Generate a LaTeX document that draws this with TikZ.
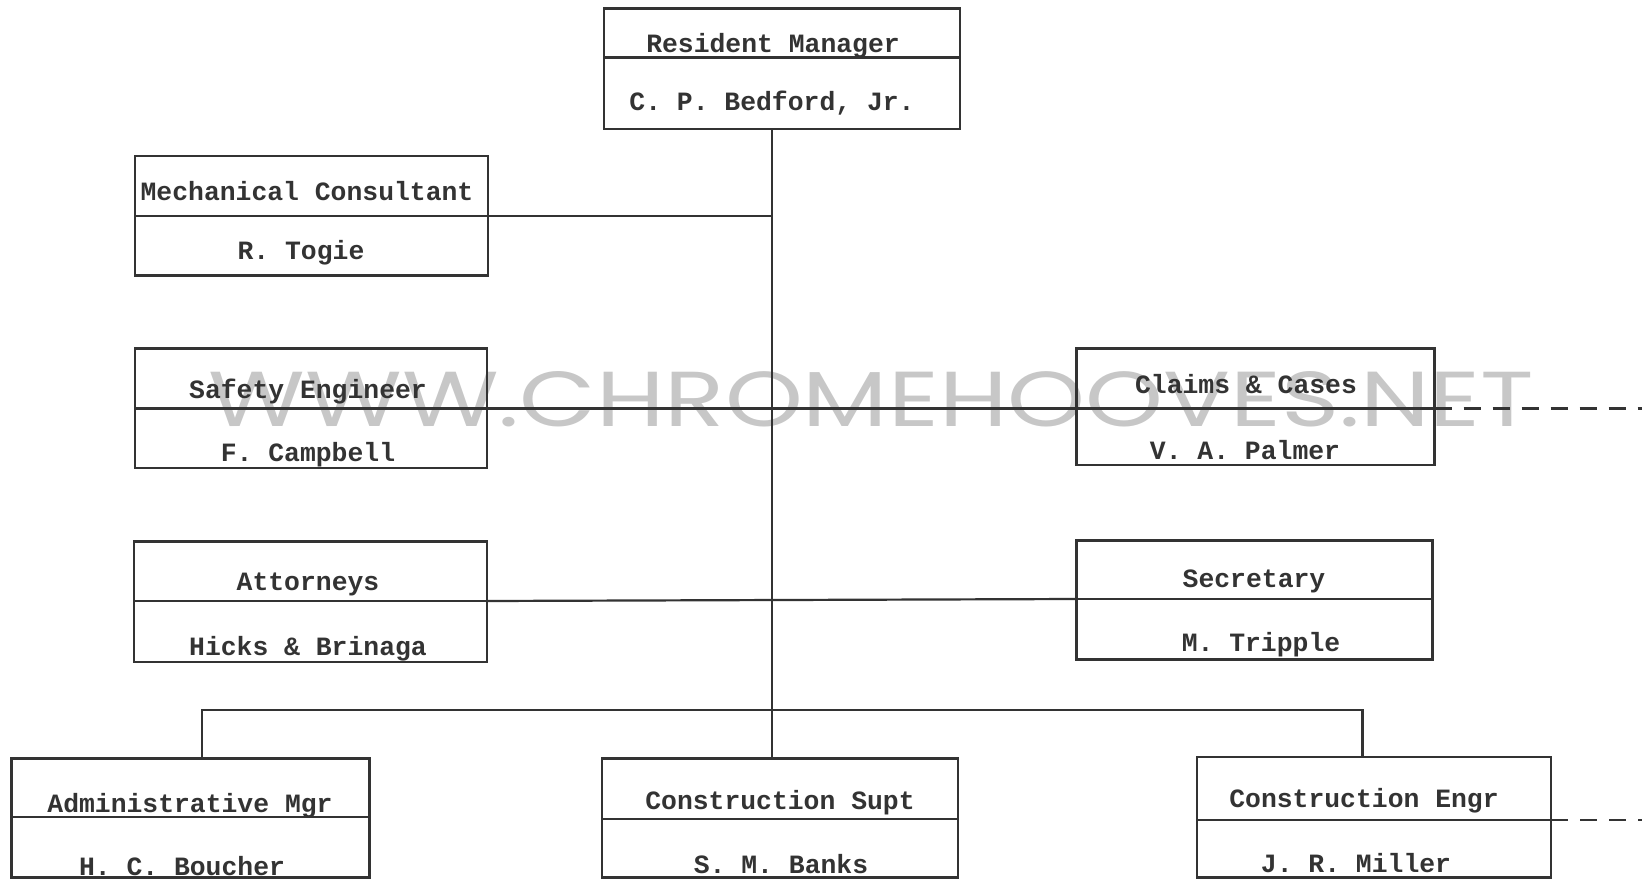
\documentclass[tikz,border=0pt]{standalone}
\usepackage{fontspec}
\setmonofont{Liberation Mono}
\newfontfamily\wmfont{Poppins}
\begin{document}
\begin{tikzpicture}[x=1pt,y=-1pt,
  box/.style={draw=black!80,line width=2.6pt,inner sep=0pt,outer sep=0pt,rectangle},
  divider/.style={draw=black!80,line width=2.4pt},
  lbl/.style={anchor=base,inner sep=0pt,text=black!80,font=\ttfamily\bfseries\fontsize{26.4}{26.4}\selectfont},
  conn/.style={draw=black!80,line width=2.2pt},
  dashconn/.style={draw=black!80,line width=2.2pt,dash pattern=on 17pt off 12pt}]
\useasboundingbox (0,0) rectangle (1642,881);
% watermark
\node[inner sep=0pt,text=black!22] (wm) at (871.5,399.5)
  {\resizebox{1325pt}{55pt}{\wmfont WWW.CHROMEHOOVES.NET}};
% boxes
\node[box,minimum width=356pt,minimum height=120.4pt] (res) at (782,68.6) {};
\node[box,minimum width=353pt,minimum height=119.4pt] (mech) at (311.5,215.7) {};
\node[box,minimum width=352pt,minimum height=119.3pt] (safe) at (311,408.4) {};
\node[box,minimum width=358.2pt,minimum height=116.3pt] (claim) at (1255.6,406.9) {};
\node[box,minimum width=353pt,minimum height=120.4pt] (atty) at (310.5,601.6) {};
\node[box,minimum width=356.1pt,minimum height=119.3pt] (sec) at (1254.5,600) {};
\node[box,minimum width=358.2pt,minimum height=119.4pt] (adm) at (190.6,817.9) {};
\node[box,minimum width=356pt,minimum height=119.4pt] (supt) at (780,817.9) {};
\node[box,minimum width=354pt,minimum height=120.6pt] (engr) at (1374,817.3) {};
% dividers
\draw[divider] (res.west |- 0,57.6) coordinate (resdw) -- (res.east |- 0,57.6) coordinate (resde);
\draw[divider] (mech.west |- 0,215.7) coordinate (mechdw) -- (mech.east |- 0,215.7) coordinate (mechde);
\draw[divider] (safe.west |- 0,408.4) coordinate (safedw) -- (safe.east |- 0,408.4) coordinate (safede);
\draw[divider] (claim.west |- 0,408.4) coordinate (claimdw) -- (claim.east |- 0,408.4) coordinate (claimde);
\draw[divider] (atty.west |- 0,601) coordinate (attydw) -- (atty.east |- 0,601) coordinate (attyde);
\draw[divider] (sec.west |- 0,599) coordinate (secdw) -- (sec.east |- 0,599) coordinate (secde);
\draw[divider] (adm.west |- 0,816.8) coordinate (admdw) -- (adm.east |- 0,816.8) coordinate (admde);
\draw[divider] (supt.west |- 0,819) coordinate (suptdw) -- (supt.east |- 0,819) coordinate (suptde);
\draw[divider] (engr.west |- 0,820) coordinate (engrdw) -- (engr.east |- 0,820) coordinate (engrde);
% texts
\node[lbl] (t1) at (773,52.4) {Resident Manager};
\node[lbl] (n1) at (772,110) {C. P. Bedford, Jr.};
\node[lbl] (t2) at (307,200) {Mechanical Consultant};
\node[lbl] (n2) at (301,259.7) {R. Togie};
\node[lbl] (t3) at (308,398) {Safety Engineer};
\node[lbl] (n3) at (308,461.8) {F. Campbell};
\node[lbl] (t4) at (1246,393.7) {Claims \& Cases};
\node[lbl] (n4) at (1245,459.7) {V. A. Palmer};
\node[lbl] (t5) at (308,590.6) {Attorneys};
\node[lbl] (n5) at (308,655.5) {Hicks \& Brinaga};
\node[lbl] (t6) at (1254,587.5) {Secretary};
\node[lbl] (n6) at (1261,651.4) {M. Tripple};
\node[lbl] (t7) at (190,812.6) {Administrative Mgr};
\node[lbl] (n7) at (182,875.5) {H. C. Boucher};
\node[lbl] (t8) at (780,809.5) {Construction Supt};
\node[lbl] (n8) at (781,873.4) {S. M. Banks};
\node[lbl] (t9) at (1364,807.4) {Construction Engr};
\node[lbl] (n9) at (1356,872.3) {J. R. Miller};
% connectors
\coordinate (jm) at (771.8,215.7);
\coordinate (bus) at (771.8,710);
\draw[conn] (res.south -| bus) -- (supt.north -| bus);
\draw[conn] (mechde) -- (jm);
\draw[conn] (safede) -- (claimdw);
\draw[conn] (attyde) -- (secdw);
\draw[conn] (adm.north -| 202,0) -- (202,710) -- (1362.4,710) -- (engr.north -| 1362.4,0);
\coordinate (dash1) at (1642,408.4);
\coordinate (dash2) at (1642,820);
\draw[dashconn] (claimde) -- (dash1);
\draw[dashconn] (engrde) -- (dash2);
\end{tikzpicture}
\end{document}
